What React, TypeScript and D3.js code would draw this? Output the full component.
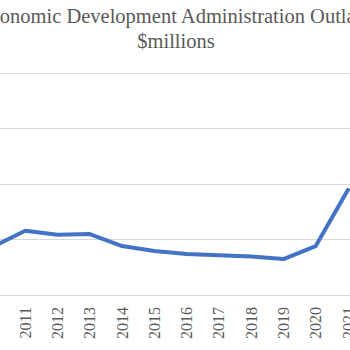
import * as d3 from 'd3';
import React, { useEffect, useRef } from 'react';

const years = [2010, 2011, 2012, 2013, 2014, 2015, 2016, 2017, 2018, 2019, 2020, 2021];
const outlays = [435, 577, 542, 548, 440, 395, 368, 357, 345, 323, 440, 945];
const gridValues = [0, 500, 1000, 1500, 2000];
const titleLines = ['Economic Development Administration Outlays', '$millions'];

const serif = '"Times New Roman", Tinos, "Liberation Serif", "DejaVu Serif", serif';

const App: React.FC = () => {
    const svgRef = useRef<SVGSVGElement | null>(null);

    useEffect(() => {
        const width = 350, height = 350;
        const svg = d3.select(svgRef.current)
            .attr('width', width)
            .attr('height', height)
            .html(''); // Clear previous contents

        const x = d3.scaleLinear().domain([2010, 2021]).range([-7, 348]);
        const y = d3.scaleLinear().domain([0, 2000]).range([295, 72.5]);

        // Gridlines
        svg.append('g')
            .selectAll('line')
            .data(gridValues)
            .join('line')
            .attr('x1', 0)
            .attr('x2', width)
            .attr('y1', d => Math.round(y(d)) + 0.5)
            .attr('y2', d => Math.round(y(d)) + 0.5)
            .attr('stroke', '#d9d9d9')
            .attr('stroke-width', 1);

        // Title
        svg.append('g')
            .selectAll('text')
            .data(titleLines)
            .join('text')
            .attr('x', 176)
            .attr('y', (d, i) => 23 + i * 25)
            .attr('text-anchor', 'middle')
            .attr('fill', '#595959')
            .style('font-family', serif)
            .attr('font-size', 20.5)
            .text(d => d);

        // Year labels
        svg.append('g')
            .selectAll('text')
            .data(years)
            .join('text')
            .attr('transform', d => `translate(${x(d) + 5.5},307) rotate(-90)`)
            .attr('text-anchor', 'end')
            .attr('fill', '#595959')
            .style('font-family', serif)
            .attr('font-size', 16)
            .text(d => d);

        // Line
        const line = d3.line<number>()
            .x((d, i) => x(years[i]))
            .y(d => y(d));

        svg.append('path')
            .datum(outlays)
            .attr('fill', 'none')
            .attr('stroke', '#4472c4')
            .attr('stroke-width', 4)
            .attr('stroke-linejoin', 'round')
            .attr('stroke-linecap', 'round')
            .attr('d', line);
    }, []);

    return (
        <svg ref={svgRef} style={{ position: 'absolute', left: 0, top: 0, background: '#fff' }}></svg>
    );
};

export default App;
